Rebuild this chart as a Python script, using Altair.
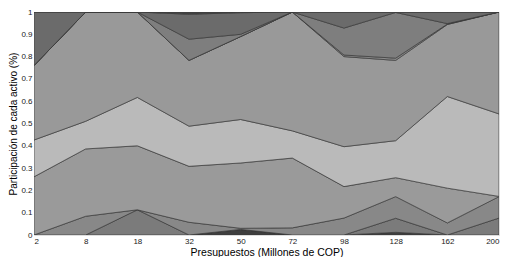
import altair as alt
import pandas as pd

# Budget categories (x axis)
x_labels = ["2", "8", "18", "32", "50", "72", "98", "128", "162", "200"]

# Share of each asset (stacked, bottom to top)
s1 = [0.000, 0.000, 0.000, 0.000, 0.025, 0.000, 0.000, 0.012, 0.000, 0.000]
s2 = [0.000, 0.000, 0.113, 0.000, 0.000, 0.000, 0.000, 0.063, 0.000, 0.076]
s3 = [0.000, 0.084, 0.000, 0.057, 0.005, 0.032, 0.076, 0.097, 0.054, 0.096]
s4 = [0.261, 0.302, 0.287, 0.251, 0.293, 0.313, 0.141, 0.085, 0.156, 0.001]
s5 = [0.165, 0.124, 0.217, 0.180, 0.195, 0.122, 0.179, 0.166, 0.411, 0.370]
s6 = [0.334, 0.490, 0.383, 0.295, 0.372, 0.533, 0.404, 0.360, 0.323, 0.457]
s7 = [0.000, 0.000, 0.000, 0.000, 0.000, 0.000, 0.007, 0.010, 0.002, 0.000]
s8 = [0.000, 0.000, 0.000, 0.095, 0.010, 0.000, 0.121, 0.205, 0.002, 0.000]
s9 = [0.240, 0.000, 0.000, 0.112, 0.097, 0.000, 0.072, 0.002, 0.052, 0.000]
s10 = [0.000, 0.000, 0.000, 0.010, 0.003, 0.000, 0.000, 0.000, 0.000, 0.000]

series = [s1, s2, s3, s4, s5, s6, s7, s8, s9, s10]
series_names = ["A1", "A2", "A3", "A4", "A5", "A6", "A7", "A8", "A9", "A10"]
series_colors = ["#3e3e3e", "#7b7b7b", "#888888", "#9a9a9a", "#bababa",
                 "#999999", "#8a8a8a", "#7e7e7e", "#6b6b6b", "#444444"]

rows = []
for k, (name, vals) in enumerate(zip(series_names, series)):
    for i, v in enumerate(vals):
        rows.append({"xi": i, "serie": name, "ord": k, "valor": v})
df = pd.DataFrame(rows)

label_expr = "[" + ",".join("'%s'" % s for s in x_labels) + "][datum.value]"

chart = alt.Chart(df).mark_area(
    interpolate="linear", stroke="#3a3a3a", strokeWidth=0.7, clip=True
).encode(
    x=alt.X("xi:Q",
            scale=alt.Scale(domain=[0, 9], nice=False, zero=False),
            axis=alt.Axis(values=list(range(10)), labelExpr=label_expr,
                          title="Presupuestos (Millones de COP)",
                          ticks=False, grid=False, domain=False,
                          labelFontSize=8, labelColor="#222",
                          labelPadding=2, titleFontSize=10.5,
                          titleFontWeight="normal", titlePadding=2,
                          titleColor="#000", labelFont="Liberation Sans",
                          titleFont="Liberation Sans")),
    y=alt.Y("valor:Q", stack="zero",
            scale=alt.Scale(domain=[0, 1], nice=False),
            axis=alt.Axis(values=[i / 10 for i in range(11)], format="~g",
                          title="Participación de cada activo (%)",
                          ticks=False, grid=False, domain=False,
                          labelFontSize=8, labelColor="#222",
                          labelPadding=2, titleFontSize=10,
                          titleFontWeight="normal", titlePadding=2,
                          titleColor="#000", labelFont="Liberation Sans",
                          titleFont="Liberation Sans")),
    color=alt.Color("serie:N", sort=series_names,
                    scale=alt.Scale(domain=series_names, range=series_colors),
                    legend=None),
    order=alt.Order("ord:Q", sort="ascending"),
).properties(
    width=465, height=223,
    autosize=alt.AutoSizeParams(type="none"),
    padding={"left": 26, "top": 4, "right": 8, "bottom": 30},
).configure_view(
    stroke="#555", strokeWidth=1
).configure(background="white")

chart.save("out.html", embed_options={"renderer": "svg", "actions": False})
